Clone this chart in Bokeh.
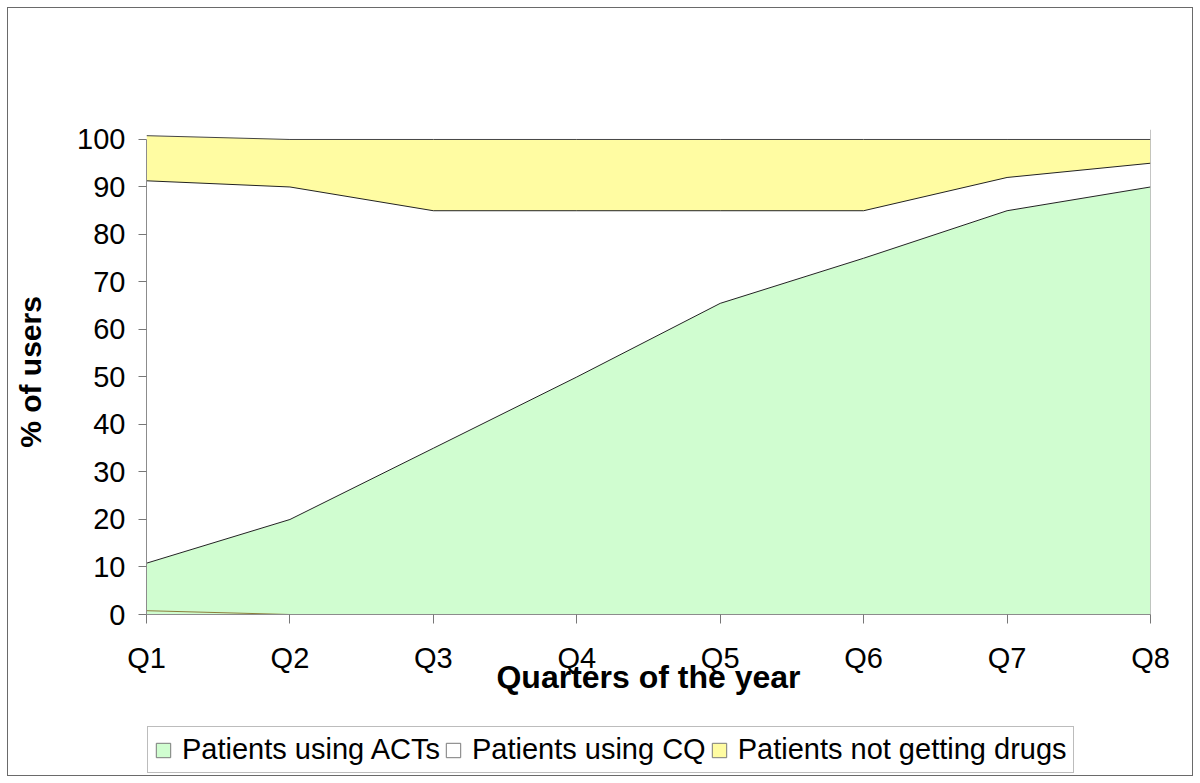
from bokeh.plotting import figure
from bokeh.layouts import column
from bokeh.models import (ColumnDataSource, Range1d, FixedTicker, Legend, LegendItem, Span)
from bokeh.transform import stack
from bokeh.embed import file_html
from bokeh.resources import INLINE

# ---- data ----
quarters = ["Q1", "Q2", "Q3", "Q4", "Q5", "Q6", "Q7", "Q8"]
other_sliver = [0.8, 0, 0, 0, 0, 0, 0, 0]
acts = [10, 20, 35, 50, 65.5, 75, 85, 90]
cq = [80.5, 70, 50, 35, 19.5, 10, 7, 5]
no_drugs = [9.5, 10, 15, 15, 15, 15, 8, 5]
y_ticks = [0, 10, 20, 30, 40, 50, 60, 70, 80, 90, 100]

series_names = ["Patients using ACTs", "Patients using CQ", "Patients not getting drugs"]
GREEN = "#D0FDD0"
WHITE = "#FFFFFF"
YELLOW = "#FFFCA2"
FONT = "Liberation Sans"

xs = list(range(len(quarters)))
source = ColumnDataSource(dict(x=xs, other=other_sliver, acts=acts, cq=cq, none=no_drugs))

p = figure(frame_width=1004, frame_height=485, output_backend="svg", toolbar_location=None,
           x_range=Range1d(0, len(quarters) - 1), y_range=Range1d(0, 102.1),
           min_border_left=138, min_border_right=42, min_border_top=121, min_border_bottom=106)
p.outline_line_color = None
p.xgrid.visible = False
p.ygrid.visible = False
p.background_fill_color = "white"

# stacked areas
p.varea_stack(["other", "acts", "cq", "none"], x="x", source=source,
              color=[GREEN, GREEN, WHITE, YELLOW])
# plot-area right border (grey)
p.add_layout(Span(location=len(quarters) - 1, dimension="height", line_color="#8c8c8c", line_width=1))
# boundary lines
p.line(x="x", y=stack("other"), source=source, line_color="#8a7d3a", line_width=1)
p.line(x="x", y=stack("other", "acts"), source=source, line_color="#222222", line_width=1)
p.line(x="x", y=stack("other", "acts", "cq"), source=source, line_color="#222222", line_width=1)
p.line(x="x", y=stack("other", "acts", "cq", "none"), source=source, line_color="#444444", line_width=1)

# axes
xa = p.xaxis[0]
xa.ticker = FixedTicker(ticks=xs)
xa.major_label_overrides = {i: q for i, q in enumerate(quarters)}
xa.bounds = (0, len(quarters) - 1)
xa.axis_line_color = "#8c8c8c"
xa.major_tick_line_color = "#777777"
xa.major_tick_out = 9
xa.major_tick_in = 0
xa.minor_tick_line_color = None
xa.major_label_text_font = FONT
xa.major_label_text_font_size = "29px"
xa.major_label_text_color = "black"
xa.major_label_standoff = 18
xa.axis_label = "Quarters of the year"
xa.axis_label_text_font = FONT
xa.axis_label_text_font_style = "bold"
xa.axis_label_text_font_size = "32px"
xa.axis_label_text_color = "black"
xa.axis_label_standoff = -18

ya = p.yaxis[0]
ya.ticker = FixedTicker(ticks=y_ticks)
ya.bounds = (0, 100)
ya.axis_line_color = "#8c8c8c"
ya.major_tick_line_color = "#777777"
ya.major_tick_out = 8
ya.major_tick_in = 0
ya.minor_tick_line_color = None
ya.major_label_text_font = FONT
ya.major_label_text_font_size = "29px"
ya.major_label_text_color = "black"
ya.major_label_standoff = 13
ya.axis_label = "% of users"
ya.axis_label_text_font = FONT
ya.axis_label_text_font_style = "bold"
ya.axis_label_text_font_size = "30px"
ya.axis_label_text_color = "black"
ya.axis_label_standoff = 27

# ---- legend strip below the chart ----
leg = figure(width=1184, height=55, output_backend="svg", toolbar_location=None,
             x_axis_type=None, y_axis_type=None, x_range=Range1d(0, 1), y_range=Range1d(0, 1),
             min_border=0)
leg.outline_line_color = None
leg.grid.visible = False

nan = float("nan")
r_items = []
for nm, col in zip(series_names, [GREEN, WHITE, YELLOW]):
    r = leg.quad(top=[nan], bottom=[nan], left=[nan], right=[nan],
                 fill_color=col, line_color="#7a7a7a", line_width=1)
    r_items.append(LegendItem(label=nm, renderers=[r]))
legend = Legend(items=r_items, orientation="horizontal", location=(1, 2),
                label_text_font=FONT, label_text_font_size="29px", label_text_color="black",
                glyph_width=18, glyph_height=18, label_standoff=10, spacing=4, padding=6,
                label_height=33, margin=0, border_line_color="#7a7a7a", border_line_width=1,
                background_fill_color="white", background_fill_alpha=1.0)
leg.add_layout(legend, "center")

layout = column(p, leg, spacing=0)
layout.styles = {"margin": "8px", "outline": "1px solid #6a6a6a"}

open("out.html", "w").write(file_html(layout, INLINE))
